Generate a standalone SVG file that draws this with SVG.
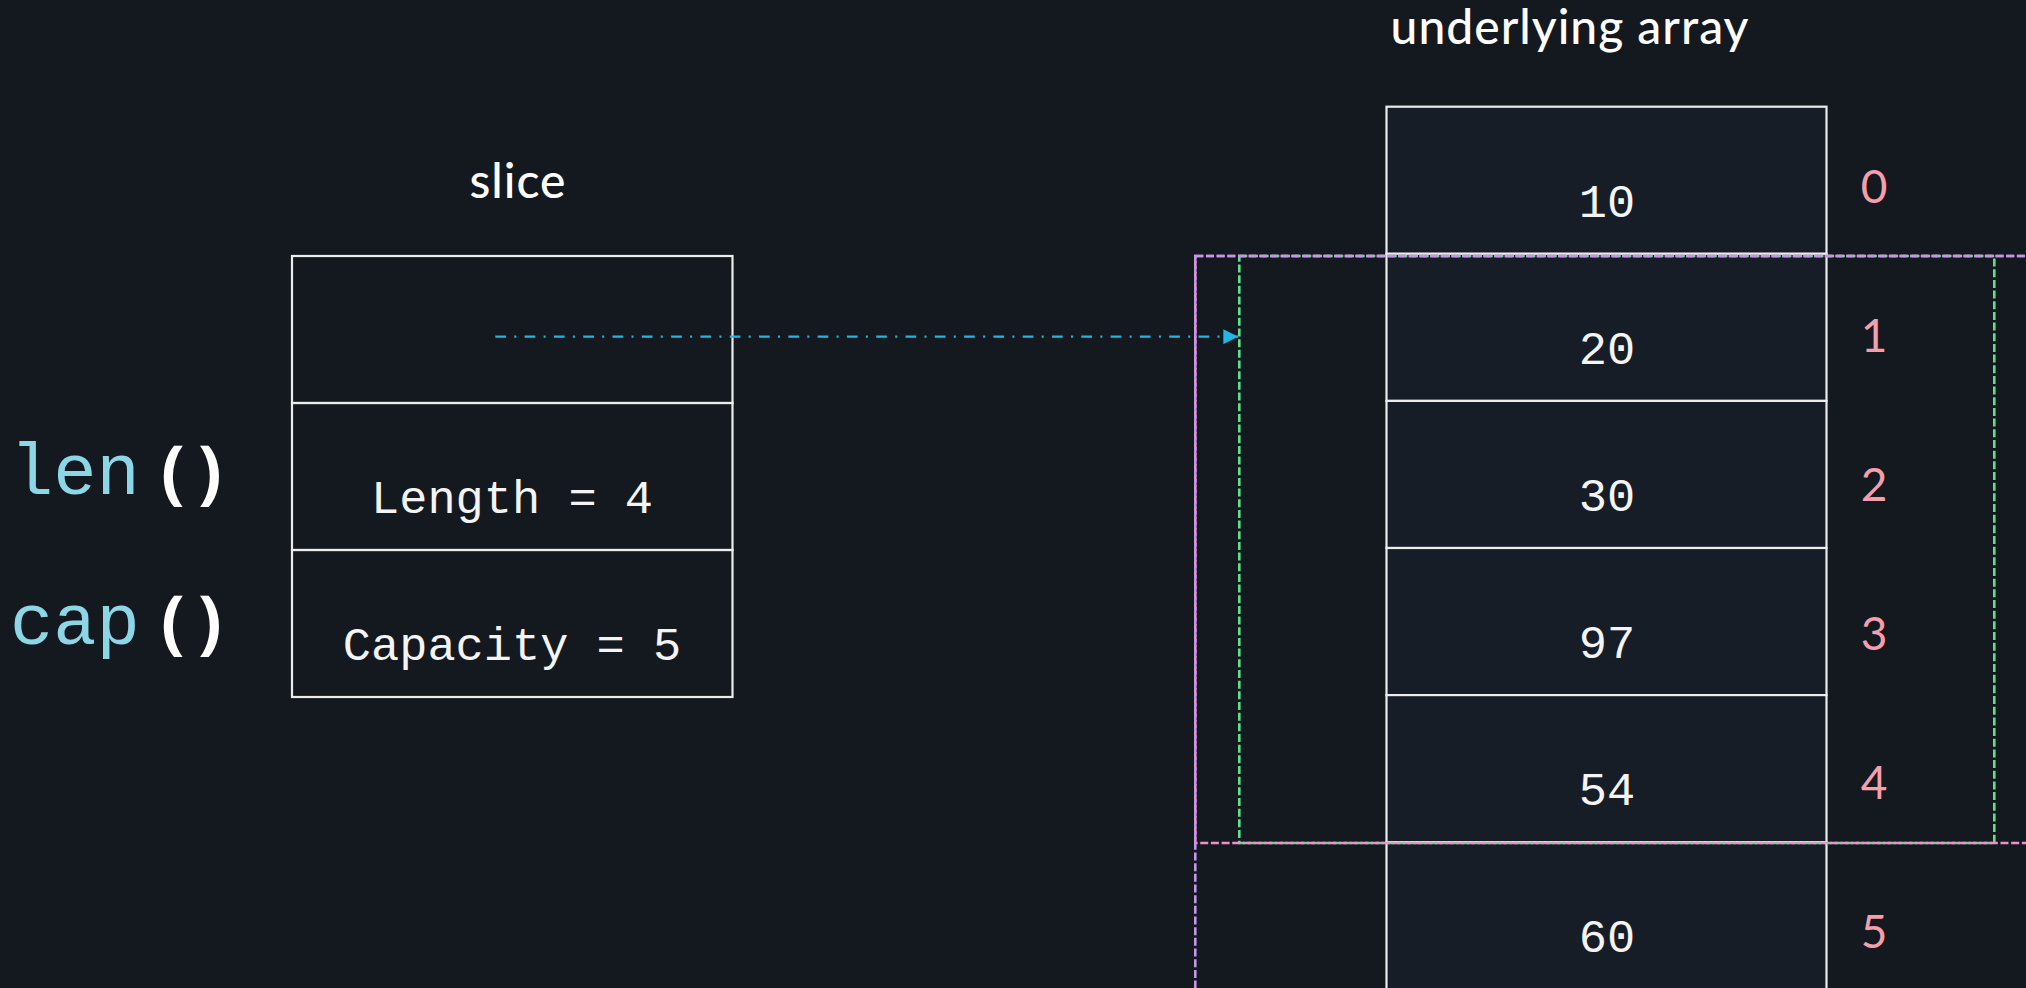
<svg xmlns="http://www.w3.org/2000/svg" width="2026" height="988" viewBox="0 0 2026 988">
  <style>
    .bg { fill: #13191f; }
    .title { font-family: Lato, "Open Sans", sans-serif; font-weight: 500; font-size: 48px; fill: #ffffff; text-anchor: middle; letter-spacing: 1px; }
    .mono { font-family: "Liberation Mono", "DejaVu Sans Mono", monospace; font-size: 47px; fill: #f4f4f4; text-anchor: middle; }
    .func { font-family: "Liberation Mono", "DejaVu Sans Mono", monospace; font-size: 72px; fill: #8cd6e6; }
    .paren { font-family: "Open Sans", Roboto, sans-serif; font-weight: 700; font-size: 70px; fill: #ffffff; }
    .idx { font-family: Lato, "Open Sans", sans-serif; font-weight: 400; font-size: 46px; fill: #f49fad; text-anchor: middle; }
    .slot { fill: none; stroke: #ececec; stroke-width: 2.2; }
    .cell { fill: #171d27; stroke: #ececec; stroke-width: 2.2; }
    .range { fill: none; stroke-width: 2.6; stroke-dasharray: 8 2.67; }
  </style>
  <defs>
    <marker id="arrow" viewBox="0 0 15 15" refX="15" refY="7.5" markerWidth="15" markerHeight="15" markerUnits="userSpaceOnUse" orient="auto">
      <path d="M0,0 L15,7.5 L0,15 Z" fill="#22b6e2"/>
    </marker>
  </defs>

  <rect class="bg" x="0" y="0" width="2026" height="988"/>

  <!-- built-in functions -->
  <g id="len-func">
    <text class="func" x="10" y="494">len</text>
    <text class="paren" x="161" y="496">(</text>
    <text class="paren" x="198" y="496">)</text>
  </g>
  <g id="cap-func">
    <text class="func" x="10" y="644">cap</text>
    <text class="paren" x="161" y="646">(</text>
    <text class="paren" x="198" y="646">)</text>
  </g>

  <!-- slice header -->
  <g id="slice">
    <text class="title" x="518" y="198">slice</text>
    <rect class="slot" x="292" y="256" width="440.5" height="147"/>
    <g id="slice-length">
      <rect class="slot" x="292" y="403" width="440.5" height="147"/>
      <text class="mono" x="512" y="513">Length = 4</text>
    </g>
    <g id="slice-capacity">
      <rect class="slot" x="292" y="550" width="440.5" height="147"/>
      <text class="mono" x="512" y="660">Capacity = 5</text>
    </g>
  </g>

  <!-- backing array -->
  <g id="array">
    <text class="title" x="1570" y="44">underlying array</text>
    <g id="cell-0">
      <rect class="cell" x="1386.5" y="106.7" width="440" height="147.1"/>
      <text class="mono" x="1607" y="216.7">10</text>
      <text class="idx" x="1874" y="203">0</text>
    </g>
    <g id="cell-1">
      <rect class="cell" x="1386.5" y="253.8" width="440" height="147.1"/>
      <text class="mono" x="1607" y="363.8">20</text>
      <text class="idx" x="1874" y="352">1</text>
    </g>
    <g id="cell-2">
      <rect class="cell" x="1386.5" y="400.9" width="440" height="147.1"/>
      <text class="mono" x="1607" y="510.9">30</text>
      <text class="idx" x="1874" y="501">2</text>
    </g>
    <g id="cell-3">
      <rect class="cell" x="1386.5" y="548" width="440" height="147.1"/>
      <text class="mono" x="1607" y="658">97</text>
      <text class="idx" x="1874" y="650">3</text>
    </g>
    <g id="cell-4">
      <rect class="cell" x="1386.5" y="695.1" width="440" height="147.1"/>
      <text class="mono" x="1607" y="805">54</text>
      <text class="idx" x="1874" y="799">4</text>
    </g>
    <g id="cell-5">
      <rect class="cell" x="1386.5" y="842.2" width="440" height="147.1"/>
      <text class="mono" x="1607" y="952">60</text>
      <text class="idx" x="1874" y="948">5</text>
    </g>
  </g>

  <!-- slice windows over the array -->
  <g id="ranges">
    <rect id="len-range" class="range" stroke="#5ee08c" x="1239.3" y="256" width="755" height="587"/>
    <rect id="view-range" class="range" stroke="#f28fca" x="1195.3" y="256" width="860" height="587"/>
    <rect id="cap-range" class="range" stroke="#c296e8" x="1195.3" y="256" width="860" height="760"/>
  </g>

  <!-- pointer from slice to array -->
  <g id="connectors">
    <line x1="495.3" y1="336.7" x2="1238.3" y2="336.7" stroke="#22b6e2" stroke-width="2.3" stroke-dasharray="10.7 8.3 2 8.3" marker-end="url(#arrow)"/>
  </g>
</svg>
